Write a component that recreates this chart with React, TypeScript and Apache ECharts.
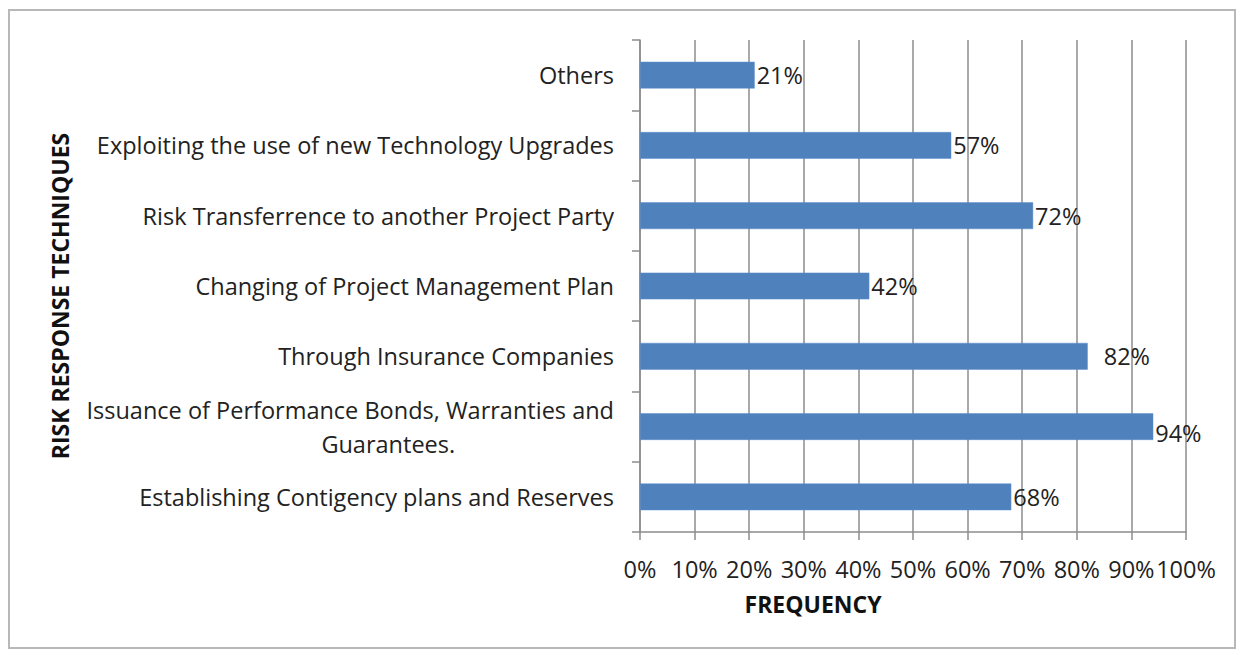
import React, { useEffect, useRef } from "react";
import * as echarts from "echarts";

const categories = [
  "Establishing Contigency plans and Reserves",
  "Issuance of Performance Bonds, Warranties and\nGuarantees.",
  "Through Insurance Companies",
  "Changing of Project Management Plan",
  "Risk Transferrence to another Project Party",
  "Exploiting the use of new Technology Upgrades",
  "Others",
];
const values = [68, 94, 82, 42, 72, 57, 21];
const labelOffsets: [number, number][] = [
  [0, 0],
  [0, 6],
  [14, 0],
  [0, 0],
  [0, 0],
  [0, 0],
  [0, 0],
];

const FONT = "'Open Sans', sans-serif";
const FS = 23.5;

export default function App() {
  const ref = useRef<HTMLDivElement>(null);
  useEffect(() => {
    if (!ref.current) return;
    const chart = echarts.init(ref.current, undefined, { renderer: "svg" });
    chart.setOption({
      animation: false,
      textStyle: { fontFamily: FONT },
      grid: { left: 640, right: 58, top: 40, bottom: 123, containLabel: false },
      xAxis: {
        type: "value",
        min: 0,
        max: 100,
        interval: 10,
        name: "FREQUENCY",
        nameLocation: "middle",
        nameGap: 60,
        nameTextStyle: { fontFamily: FONT, fontSize: 23, fontWeight: "bold", color: "#111", padding: [0, 200, 0, 0] },
        axisLine: { show: true, lineStyle: { color: "#8c8c8c", width: 1.5 } },
        axisTick: { show: true, length: 8, lineStyle: { color: "#8c8c8c", width: 1.5 } },
        axisLabel: { formatter: "{value}%", fontSize: FS, color: "#222", margin: 25, fontFamily: FONT },
        splitLine: { show: true, lineStyle: { color: "#8c8c8c", width: 1.5 } },
      },
      yAxis: {
        type: "category",
        data: categories,
        name: "RISK RESPONSE TECHNIQUES",
        nameLocation: "middle",
        nameGap: 569,
        nameRotate: 90,
        nameTextStyle: { fontFamily: FONT, fontSize: 23, fontWeight: "bold", color: "#111", padding: [0, 20, 0, 0] },
        axisLine: { show: true, lineStyle: { color: "#8c8c8c", width: 1.5 } },
        axisTick: { show: true, length: 8, alignWithLabel: false, lineStyle: { color: "#8c8c8c", width: 1.5 } },
        axisLabel: {
          fontSize: FS,
          color: "#222",
          margin: 26,
          fontFamily: FONT,
          lineHeight: 34,
          formatter: (v: string) => {
            const parts = v.split("\n");
            if (parts.length === 1) return "{a|" + v + "}";
            return "{a|" + parts[0] + "}\n{b|" + parts[1] + "}";
          },
          rich: {
            a: { fontSize: FS, color: "#222", fontFamily: FONT, align: "right", lineHeight: 34 },
            b: { fontSize: FS, color: "#222", fontFamily: FONT, align: "center", lineHeight: 34, padding: [0, 0, 0, 76] },
          },
        },
        splitLine: { show: false },
      },
      series: [
        {
          type: "bar",
          data: values.map((v, i) => ({
            value: v,
            label: { offset: labelOffsets[i] },
          })),
          barWidth: "38%",
          itemStyle: { color: "#4f81bd", borderColor: "#5b8fcf", borderWidth: 0.5 },
          label: {
            show: true,
            position: "right",
            distance: 2,
            formatter: "{c}%",
            fontSize: FS,
            color: "#222",
            fontFamily: FONT,
          },
        },
      ],
    });
    return () => chart.dispose();
  }, []);
  return (
    <div style={{ position: "absolute", left: 0, top: 0, width: 1244, height: 655, background: "#fff" }}>
      <div
        style={{
          position: "absolute",
          left: 8,
          top: 9,
          width: 1228,
          height: 640,
          border: "2px solid #b8b8b8",
          boxSizing: "border-box",
        }}
      />
      <div ref={ref} style={{ position: "absolute", left: 0, top: 0, width: 1244, height: 655 }} />
    </div>
  );
}
